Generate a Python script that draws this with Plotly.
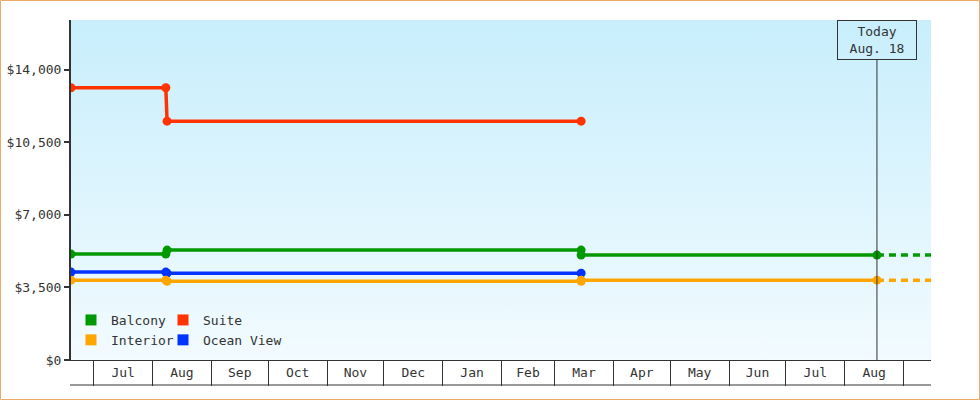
import pandas as pd
import plotly.graph_objects as go

# ---- data --------------------------------------------------------------------
X_START = "2024-06-19"
X_END = "2025-09-15 12:00"
TODAY = "2025-08-18"
Y_MAX = 16400

balcony_dates = ["2024-06-19", "2024-08-08", "2024-08-08 16:00", "2025-03-15", "2025-03-15", TODAY]
balcony_price = [5110, 5110, 5300, 5300, 5060, 5060]

suite_dates = ["2024-06-19", "2024-08-08", "2024-08-08 16:00", "2025-03-15"]
suite_price = [13130, 13130, 11520, 11520]

ocean_dates = ["2024-06-19", "2024-08-08", "2024-08-08 16:00", "2025-03-15"]
ocean_price = [4240, 4240, 4190, 4190]

interior_dates = ["2024-06-19", "2024-08-08", "2024-08-08 16:00", "2025-03-15", "2025-03-15", TODAY]
interior_price = [3850, 3850, 3800, 3800, 3850, 3850]

# projections past today (dotted)
proj_dates = [TODAY, X_END]
balcony_proj = [5060, 5060]
interior_proj = [3850, 3850]

month_labels = ["Jul", "Aug", "Sep", "Oct", "Nov", "Dec", "Jan", "Feb",
                "Mar", "Apr", "May", "Jun", "Jul", "Aug"]
y_ticks = [0, 3500, 7000, 10500, 14000]
y_labels = ["$0", "$3,500", "$7,000", "$10,500", "$14,000"]

COLORS = {"Balcony": "#009900", "Suite": "#ff3300",
          "Interior": "#ffa500", "Ocean View": "#0033ff"}
FONT = "DejaVu Sans Mono, Liberation Mono, monospace"
INK = "#333333"

# month boundaries (separators) and mid-month label positions
bounds = pd.date_range("2024-07-01", "2025-09-01", freq="MS")
mids = [a + (b - a) / 2 for a, b in zip(bounds[:-1], bounds[1:])]

# plot-area geometry in px (used for paper-referenced decorations)
W, H, L, R, T, B = 980, 400, 71, 49, 20, 40
PW, PH = W - L - R, H - T - B

fig = go.Figure()

# gradient plot background
fig.add_scatter(x=[X_START, X_END, X_END, X_START], y=[0, 0, Y_MAX, Y_MAX],
                fill="toself", mode="none", hoverinfo="skip", showlegend=False,
                fillgradient=dict(type="vertical", start=0, stop=Y_MAX,
                                  colorscale=[[0, "#f2fbff"], [1, "#c8eefc"]]))

series = [("Balcony", balcony_dates, balcony_price),
          ("Suite", suite_dates, suite_price),
          ("Ocean View", ocean_dates, ocean_price),
          ("Interior", interior_dates, interior_price)]
for name, xs, ys in series:
    fig.add_scatter(x=xs, y=ys, mode="lines+markers", name=name, showlegend=False,
                    line=dict(color=COLORS[name], width=3.5),
                    marker=dict(color=COLORS[name], size=9))

for name, ys in [("Balcony", balcony_proj), ("Interior", interior_proj)]:
    fig.add_scatter(x=proj_dates, y=ys, mode="lines", showlegend=False, hoverinfo="skip",
                    line=dict(color=COLORS[name], width=3.5, dash="7px,5px"))

# legend entries (square swatches), two columns
for name, leg in [("Balcony", "legend"), ("Interior", "legend"),
                  ("Suite", "legend2"), ("Ocean View", "legend2")]:
    fig.add_scatter(x=[None], y=[None], mode="markers", name=name, legend=leg,
                    marker=dict(color=COLORS[name], symbol="square", size=11))

leg_common = dict(yanchor="bottom", y=(360 - 355) / PH, bgcolor="rgba(0,0,0,0)",
                  font=dict(family=FONT, size=13, color=INK), tracegroupgap=0)

fig.update_layout(
    width=W, height=H,
    margin=dict(l=L, r=R, t=T, b=B, autoexpand=False),
    paper_bgcolor="white", plot_bgcolor="rgba(0,0,0,0)",
    font=dict(family=FONT, size=13, color=INK),
    legend=dict(x=(71 - L) / PW, **leg_common),
    legend2=dict(x=(163 - L) / PW, **leg_common),
    xaxis=dict(range=[X_START, X_END], type="date", automargin=False,
               tickmode="array", tickvals=mids, ticktext=month_labels,
               ticks="", showgrid=False, zeroline=False,
               showline=True, linecolor=INK, linewidth=1,
               minor=dict(tickmode="array", tickvals=list(bounds), ticks="outside",
                          ticklen=25, tickwidth=1, tickcolor=INK, showgrid=False)),
    yaxis=dict(range=[0, Y_MAX], tickmode="array", tickvals=y_ticks, ticktext=y_labels,
               automargin=False, ticks="outside", ticklen=5,
               tickwidth=2, tickcolor=INK, showgrid=False, zeroline=False,
               showline=True, linecolor=INK, linewidth=2),
    showlegend=True,
)

# bottom line closing the month boxes
fig.add_shape(type="line", xref="paper", yref="paper", x0=-1 / PW, x1=1,
              y0=-25 / PH, y1=-25 / PH, line=dict(color=INK, width=1))

# "today" marker line and label box
fig.add_shape(type="line", xref="x", yref="paper", x0=TODAY, x1=TODAY,
              y0=0, y1=(360 - 60) / PH, line=dict(color=INK, width=1))
fig.add_annotation(x=TODAY, xref="x", y=1, yref="paper", xanchor="center", yanchor="top",
                   text="Today<br>Aug. 18", showarrow=False,
                   font=dict(family=FONT, size=13, color=INK),
                   bordercolor=INK, borderwidth=1, borderpad=2, width=74, height=34,
                   bgcolor="rgba(0,0,0,0)")

# orange frame around the whole picture
fig.add_shape(type="rect", xref="paper", yref="paper",
              x0=(0.5 - L) / PW, x1=(W - 0.5 - L) / PW,
              y0=(360 - (H - 0.5)) / PH, y1=(360 - 0.5) / PH,
              line=dict(color="#eeaa66", width=1), layer="above")

fig.write_html("out.html", config={"displayModeBar": False},
               post_script="document.body.style.margin='0';")
